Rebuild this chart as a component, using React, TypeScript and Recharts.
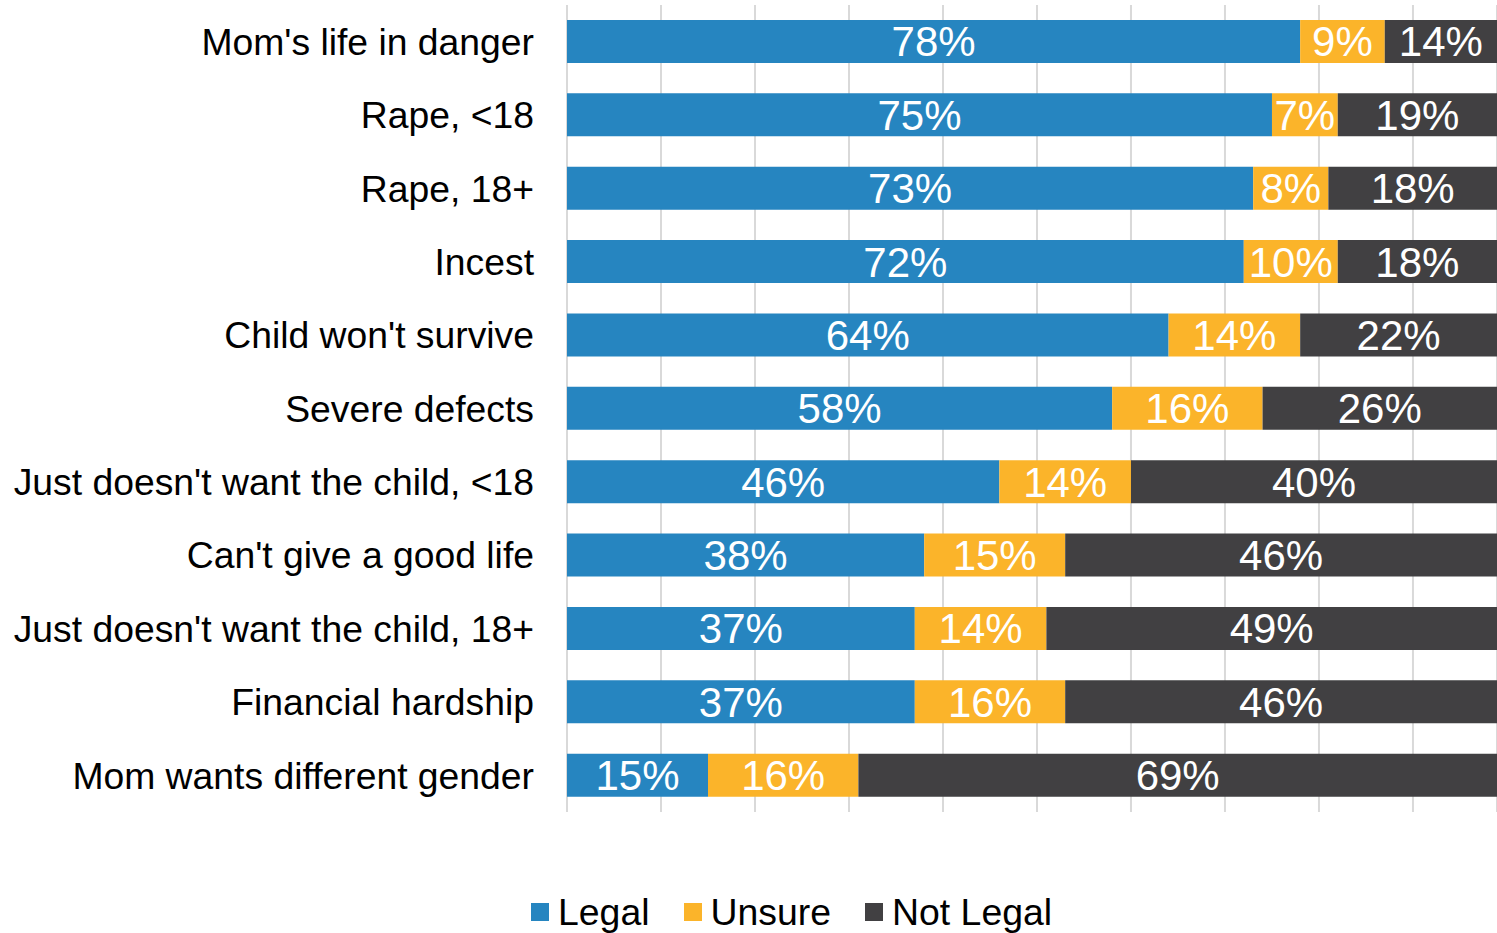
import { Bar, BarChart, CartesianGrid, LabelList, Legend, XAxis, YAxis } from "recharts";

const categories = [
  "Mom's life in danger",
  "Rape, <18",
  "Rape, 18+",
  "Incest",
  "Child won't survive",
  "Severe defects",
  "Just doesn't want the child, <18",
  "Can't give a good life",
  "Just doesn't want the child, 18+",
  "Financial hardship",
  "Mom wants different gender",
];
const legal = [78, 75, 73, 72, 64, 58, 46, 38, 37, 37, 15];
const unsure = [9, 7, 8, 10, 14, 16, 14, 15, 14, 16, 16];
const notLegal = [14, 19, 18, 18, 22, 26, 40, 46, 49, 46, 69];
const xTicks = [0, 10, 20, 30, 40, 50, 60, 70, 80, 90];
// the original plot runs to 100% just past the right edge of the image
const xMax = 98.94;

const data = categories.map((name, i) => ({
  name,
  legal: legal[i],
  unsure: unsure[i],
  notLegal: notLegal[i],
}));

const FONT = "Arial, 'Liberation Sans', sans-serif";
const series = [
  { key: "legal", name: "Legal", color: "#2685c0" },
  { key: "unsure", name: "Unsure", color: "#fbb42a" },
  { key: "notLegal", name: "Not Legal", color: "#414042" },
];

function LegendBox() {
  return (
    <div style={{ height: 121, position: "relative", fontFamily: FONT }}>
      <div style={{ position: "absolute", left: 531, top: 82, display: "flex", alignItems: "center", height: 36 }}>
        {series.map((s) => (
          <div key={s.key} style={{ display: "flex", alignItems: "center", marginRight: 34 }}>
            <span style={{ width: 18, height: 18, background: s.color, marginRight: 9, display: "inline-block" }} />
            <span style={{ fontSize: 37.4, color: "#000", lineHeight: "36px", whiteSpace: "nowrap" }}>{s.name}</span>
          </div>
        ))}
      </div>
    </div>
  );
}

export default function App() {
  return (
    <div style={{ position: "absolute", left: 0, top: 0, width: 1497, height: 933, overflow: "hidden", background: "#fff" }}>
      <BarChart
        width={1497}
        height={933}
        data={data}
        layout="vertical"
        margin={{ top: 5, right: 0, bottom: 0, left: 0 }}
        barSize={43}
      >
        <CartesianGrid horizontal={false} stroke="#d9d9d9" strokeWidth={2} />
        <XAxis type="number" domain={[0, xMax]} ticks={xTicks} allowDataOverflow hide />
        <YAxis
          type="category"
          dataKey="name"
          width={567}
          axisLine={false}
          tickLine={false}
          tickSize={0}
          tickMargin={33}
          interval={0}
          tick={{ fontSize: 37.3, fill: "#000", fontFamily: FONT }}
        />
        <Legend
          verticalAlign="bottom"
          content={() => <LegendBox />}
          wrapperStyle={{ left: 0, width: 1497, bottom: 0 }}
        />
        {series.map((s) => (
          <Bar key={s.key} dataKey={s.key} name={s.name} stackId="a" fill={s.color} isAnimationActive={false}>
            <LabelList
              dataKey={s.key}
              position="center"
              formatter={(v: any) => `${v}%`}
              style={{ fill: "#fff", fontSize: 42, fontFamily: FONT }}
            />
          </Bar>
        ))}
      </BarChart>
    </div>
  );
}
